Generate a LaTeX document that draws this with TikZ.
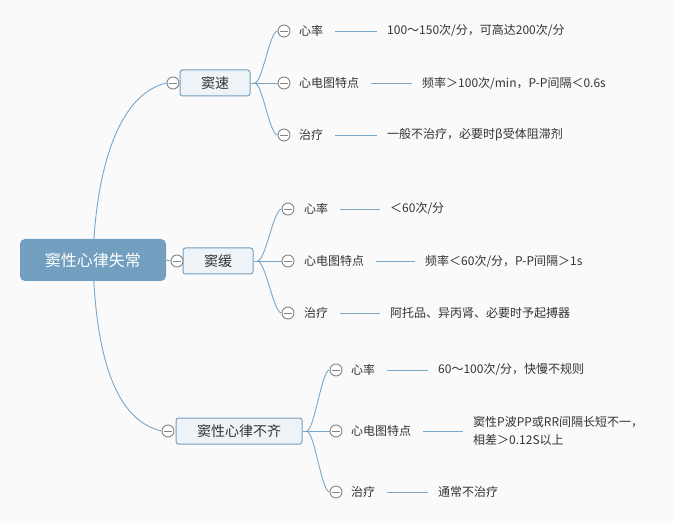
\documentclass[tikz,border=0pt]{standalone}
\usepackage{fontspec}
\setmainfont{Noto Sans CJK SC}
\usetikzlibrary{backgrounds}
\definecolor{bgc}{HTML}{FAFAFA}
\definecolor{rootblue}{HTML}{729FC0}
\definecolor{edgec}{HTML}{7AA6C8}
\definecolor{boxfill}{HTML}{EEF3F7}
\definecolor{txt}{HTML}{333333}
\definecolor{knob}{HTML}{858585}
\begin{document}
\begin{tikzpicture}[x=1pt,y=-1pt,
  rootbox/.style={rectangle,rounded corners=5pt,fill=rootblue,text=white,minimum width=146pt,minimum height=42pt,inner sep=0pt,font=\fontsize{16}{18}\selectfont},
  branchbox/.style={rectangle,rounded corners=2.5pt,draw=rootblue,line width=1pt,fill=boxfill,text=txt,minimum height=26pt,inner sep=0pt,font=\fontsize{14}{16}\selectfont},
  knobc/.style={circle,draw=knob,line width=0.9pt,fill=white,minimum size=12pt,inner sep=0pt,
    path picture={\draw[knob,line width=0.9pt] ([xshift=-4pt]path picture bounding box.center) -- ([xshift=4pt]path picture bounding box.center);}},
  leaf/.style={anchor=west,text=txt,inner sep=0pt,font=\fontsize{12}{14}\selectfont},
  val/.style={anchor=west,text=txt,inner sep=0pt,font=\fontsize{12}{18}\selectfont,align=left},
  conn/.style={draw=edgec,line width=0.9pt},
]
\useasboundingbox (0,0) rectangle (673,524);

% root
\node[rootbox] (root) at (93,260) {窦性心律失常};

% branches
\node[branchbox,minimum width=70pt] (b1) at (215,83) {窦速};
\node[knobc] (k1) at (173,83) {};
\node[branchbox,minimum width=70pt] (b2) at (218,261) {窦缓};
\node[knobc] (k2) at (177,261) {};
\node[branchbox,minimum width=126pt] (b3) at (239,431) {窦性心律不齐};
\node[knobc] (k3) at (168,431) {};

% branch 1 children
\node[knobc] (k11) at (284,31) {};
\node[knobc] (k12) at (284,83) {};
\node[knobc] (k13) at (284,135) {};
\node[leaf] (l11) at (299,31) {心率};
\node[leaf] (l12) at (299,83) {心电图特点};
\node[leaf] (l13) at (299,135) {治疗};
\node[val] (v11) at (387,31) {100～150次/分，可高达200次/分};
\node[val] (v12) at (422,83) {频率＞100次/min，P-P间隔＜0.6s};
\node[val] (v13) at (387,135) {一般不治疗，必要时β受体阻滞剂};

% branch 2 children
\node[knobc] (k21) at (288,209) {};
\node[knobc] (k22) at (288,261) {};
\node[knobc] (k23) at (288,313) {};
\node[leaf] (l21) at (304,209) {心率};
\node[leaf] (l22) at (304,261) {心电图特点};
\node[leaf] (l23) at (304,313) {治疗};
\node[val] (v21) at (390,209) {＜60次/分};
\node[val] (v22) at (425,261) {频率＜60次/分，P-P间隔＞1s};
\node[val] (v23) at (390,313) {阿托品、异丙肾、必要时予起搏器};

% branch 3 children
\node[knobc] (k31) at (336,370) {};
\node[knobc] (k32) at (336,431) {};
\node[knobc] (k33) at (336,492) {};
\node[leaf] (l31) at (351,370) {心率};
\node[leaf] (l32) at (351,431) {心电图特点};
\node[leaf] (l33) at (351,492) {治疗};
\node[val] (v31) at (438,370) {60～100次/分，快慢不规则};
\node[val] (v32) at (473,431) {窦性P波PP或RR间隔长短不一，\\相差＞0.12S以上};
\node[val] (v33) at (438,492) {通常不治疗};

\begin{scope}[on background layer]
  \fill[bgc] (0,0) rectangle (673,524);
  % root connectors
  \draw[conn] (root.center) .. controls +(2,-80) and +(-52,12) .. (k1.west);
  \draw[conn] (root.east) -- (k2.west);
  \draw[conn] (root.center) .. controls +(2,80) and +(-52,-12) .. (k3.west);
  % branch connectors
  \foreach \b/\i in {b1/1,b2/2,b3/3}{
    \draw[conn] ([xshift=4pt]\b.east) .. controls +(8,0) and +(-8,0) .. (k\i1.west);
    \draw[conn] (\b.east) -- (k\i2.west);
    \draw[conn] ([xshift=4pt]\b.east) .. controls +(8,0) and +(-8,0) .. (k\i3.west);
  }
  % label-to-value lines
  \foreach \i in {11,12,13,21,22,23,31,32,33}{
    \draw[conn] ([xshift=12pt]l\i.east) -- ([xshift=-10pt]v\i.west);
  }
\end{scope}
\end{tikzpicture}
\end{document}
